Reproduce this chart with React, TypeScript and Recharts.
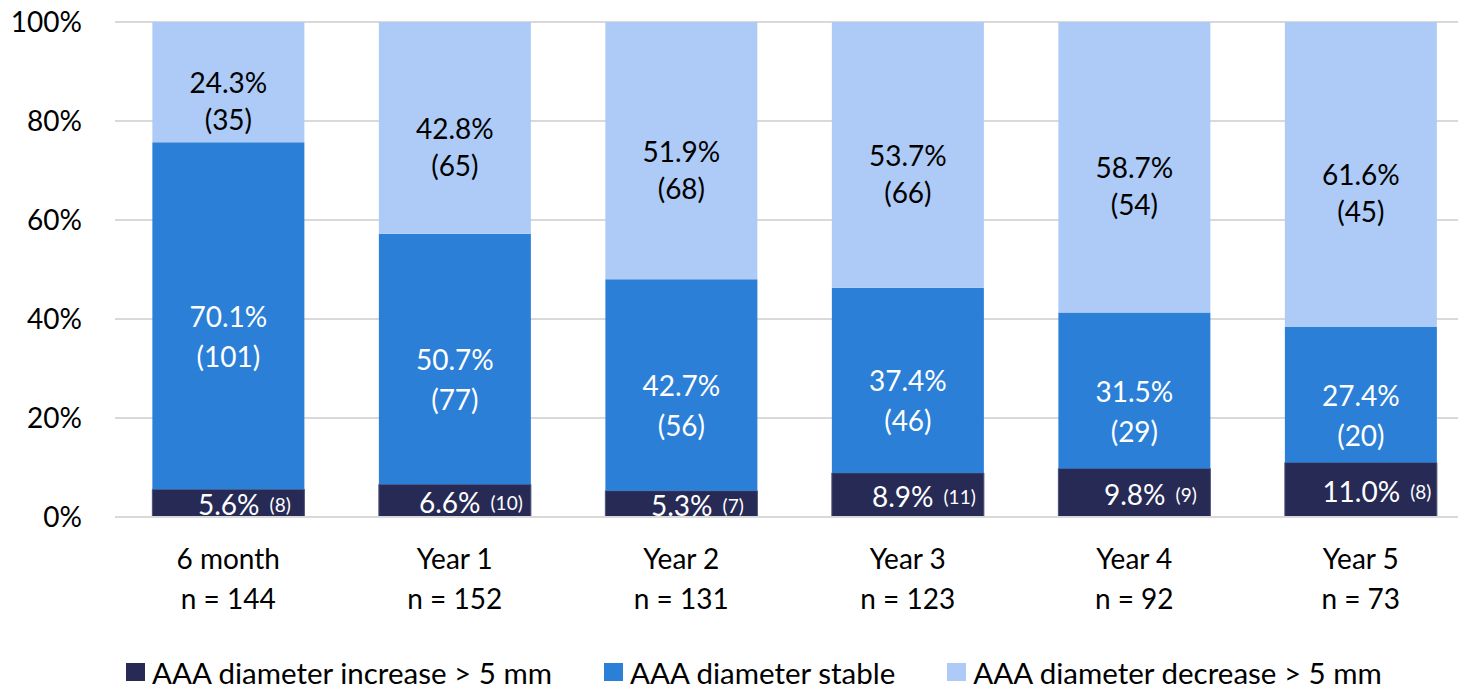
import React from "react";
import {
  BarChart,
  Bar,
  XAxis,
  YAxis,
  CartesianGrid,
  Legend,
  LabelList,
} from "recharts";

const categories = ["6 month", "Year 1", "Year 2", "Year 3", "Year 4", "Year 5"];
const sampleSizes = [144, 152, 131, 123, 92, 73];

const increasePct = [5.6, 6.6, 5.3, 8.9, 9.8, 11.0];
const increaseN = [8, 10, 7, 11, 9, 8];
const stablePct = [70.1, 50.7, 42.7, 37.4, 31.5, 27.4];
const stableN = [101, 77, 56, 46, 29, 20];
const decreasePct = [24.3, 42.8, 51.9, 53.7, 58.7, 61.6];
const decreaseN = [35, 65, 68, 66, 54, 45];

const yTicks = [0, 0.2, 0.4, 0.6, 0.8, 1];

const FONT = "Lato, 'Noto Sans', sans-serif";
const COLORS = {
  increase: "#262a55",
  stable: "#2b7fd7",
  decrease: "#adcbf6",
};

const series = [
  { key: "increase", name: "AAA diameter increase > 5 mm", color: COLORS.increase },
  { key: "stable", name: "AAA diameter stable", color: COLORS.stable },
  { key: "decrease", name: "AAA diameter decrease > 5 mm", color: COLORS.decrease },
];

const data = categories.map((name, i) => ({
  name,
  n: sampleSizes[i],
  increase: increasePct[i],
  stable: stablePct[i],
  decrease: decreasePct[i],
}));

function CategoryTick({ x, y, payload, index }: any) {
  const i = index ?? categories.indexOf(payload.value);
  return (
    <text x={x} y={y} textAnchor="middle" fontSize={28} fill="#000" fontFamily={FONT}>
      <tspan x={x} dy={50}>{payload.value}</tspan>
      <tspan x={x} dy={40}>n = {sampleSizes[i]}</tspan>
    </text>
  );
}

// two-line label: percentage on the segment's middle, count underneath
function twoLineLabel(pcts: number[], counts: number[], color: string, gap: number) {
  return (props: any) => {
    const { x, y, width, height, index } = props;
    const cx = Number(x) + Number(width) / 2;
    const cy = Number(y) + Number(height) / 2;
    return (
      <text
        x={cx}
        y={cy}
        textAnchor="middle"
        fontSize={28}
        fill={color}
        fontFamily={FONT}
        dominantBaseline="central"
      >
        <tspan x={cx} dy={0}>{pcts[index].toFixed(1)}%</tspan>
        <tspan x={cx} dy={gap}>({counts[index]})</tspan>
      </text>
    );
  };
}

function IncreaseLabel(props: any) {
  const { x, y, width, height, index } = props;
  const cx = Number(x) + Number(width) / 2 + 16;
  const cy = Number(y) + Number(height) / 2 + 1;
  return (
    <text
      x={cx}
      y={cy}
      textAnchor="middle"
      fill="#fff"
      fontFamily={FONT}
      dominantBaseline="central"
    >
      <tspan fontSize={28}>{increasePct[index].toFixed(1)}%</tspan>
      <tspan fontSize={19} dx={10}>({increaseN[index]})</tspan>
    </text>
  );
}

function LegendContent() {
  return (
    <div
      style={{
        display: "flex",
        alignItems: "center",
        gap: 52,
        paddingLeft: 126,
        paddingTop: 4,
        height: 36,
        fontFamily: FONT,
        fontSize: 29.5,
        color: "#000",
      }}
    >
      {series.map((s) => (
        <div key={s.key} style={{ display: "flex", alignItems: "center", gap: 7 }}>
          <span style={{ width: 19, height: 18, background: s.color, display: "inline-block" }} />
          <span>{s.name}</span>
        </div>
      ))}
    </div>
  );
}

export default function App() {
  return (
    <div
      style={{
        position: "fixed",
        left: 0,
        top: 0,
        width: 1458,
        height: 690,
        overflow: "hidden",
        background: "#fff",
      }}
    >
      <BarChart
        width={1480}
        height={690}
        data={data}
        stackOffset="expand"
        barCategoryGap="16.5%"
        margin={{ top: 22, right: 6, left: 0, bottom: 0 }}
      >
        <CartesianGrid vertical={false} stroke="#d9d9d9" strokeWidth={2} />
        <XAxis
          dataKey="name"
          height={133}
          tick={<CategoryTick />}
          tickLine={false}
          tickSize={0}
          axisLine={{ stroke: "#d9d9d9", strokeWidth: 2 }}
          interval={0}
        />
        <YAxis
          width={115}
          domain={[0, 1]}
          ticks={yTicks}
          tickFormatter={(v: number) => `${Math.round(v * 100)}%`}
          axisLine={false}
          tickLine={false}
          tickSize={0}
          tickMargin={33}
          tick={{ fontSize: 28, fill: "#000", fontFamily: FONT }}
        />
        <Legend verticalAlign="bottom" content={<LegendContent />} wrapperStyle={{ left: 0, width: 1458 }} />
        <Bar dataKey="increase" stackId="a" fill={COLORS.increase} stroke="#4b5078" strokeWidth={1} isAnimationActive={false}>
          <LabelList dataKey="increase" content={<IncreaseLabel />} />
        </Bar>
        <Bar dataKey="stable" stackId="a" fill={COLORS.stable} isAnimationActive={false}>
          <LabelList dataKey="stable" content={twoLineLabel(stablePct, stableN, "#fff", 40)} />
        </Bar>
        <Bar dataKey="decrease" stackId="a" fill={COLORS.decrease} isAnimationActive={false}>
          <LabelList dataKey="decrease" content={twoLineLabel(decreasePct, decreaseN, "#000", 37)} />
        </Bar>
      </BarChart>
    </div>
  );
}
